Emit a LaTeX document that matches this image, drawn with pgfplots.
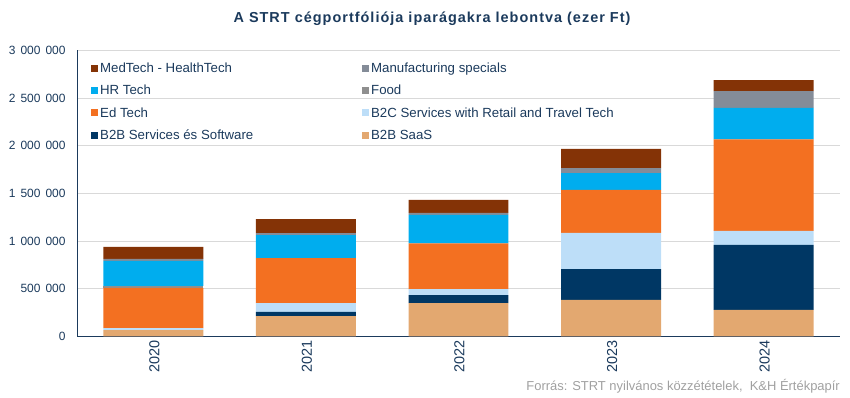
\documentclass[border=0pt]{standalone}
\usepackage{fontspec}
\setmainfont{Liberation Sans}
\newfontfamily\titlefont[LetterSpace=7]{Liberation Sans}
\usepackage{pgfplots}
\pgfplotsset{compat=1.18}
\usepackage{pgfplotstable}

\definecolor{cMed}{HTML}{843306}
\definecolor{cManuf}{HTML}{848C98}
\definecolor{cHR}{HTML}{00ADEE}
\definecolor{cFood}{HTML}{8F8F8F}
\definecolor{cEd}{HTML}{F37021}
\definecolor{cBtoC}{HTML}{BDDEF8}
\definecolor{cSvc}{HTML}{003764}
\definecolor{cSaaS}{HTML}{E3A870}
\definecolor{textblue}{HTML}{1B3A5C}
\definecolor{gridgrey}{HTML}{D9D9D9}
\definecolor{srcgrey}{HTML}{A0A0A0}

\pgfplotstableread{
x saas svc b2c ed food hr manuf med
0 68000 0 21000 420000 21000 262000 21000 126000
1 215000 42000 94000 472000 0 241000 21000 147000
2 351000 84000 63000 480000 0 297000 21000 136000
3 383000 325000 378000 451000 0 178000 52000 200000
4 278000 682000 147000 961000 0 329000 178000 115000
}\datatable

\newcommand{\tsp}{\hspace{5bp}}

\begin{document}
\begin{tikzpicture}
\path[use as bounding box] (0,0) rectangle (850bp,398bp);
\begin{axis}[
  at={(77bp,61.5bp)}, anchor=south west,
  scale only axis, width=763bp, height=286bp,
  ybar stacked, bar width=0.655,
  xmin=-0.5, xmax=4.5, ymin=0, ymax=3000000,
  scaled y ticks=false,
  xtick={0,1,2,3,4}, xticklabels={2020,2021,2022,2023,2024},
  x tick label style={rotate=90, anchor=east, font=\fontsize{14.5}{16}\selectfont, text=textblue, yshift=-1bp},
  ytick={0,500000,1000000,1500000,2000000,2500000,3000000},
  yticklabels={0,500\tsp000,1\tsp000\tsp000,1\tsp500\tsp000,2\tsp000\tsp000,2\tsp500\tsp000,3\tsp000\tsp000},
  y tick label style={font=\fontsize{12}{14}\selectfont, text=textblue, xshift=-8bp},
  axis x line*=bottom, axis y line*=left,
  axis line style={textblue, line width=0.9pt, -},
  ymajorgrids, grid style={gridgrey, line width=0.7pt},
  major tick length=0pt, tick style={draw=none},
  reverse legend, legend columns=2,
  legend image code/.code={\fill[#1] (0bp,-3.5bp) rectangle (7bp,3.5bp);},
  legend style={at={(0.0144,0.97)}, anchor=north west, draw=none, fill=none,
    font=\fontsize{13.3}{15.6}\selectfont, text=textblue, row sep=7bp},
  legend cell align=left,
]
\addplot[fill=cSaaS, draw=none] table[x=x,y=saas]{\datatable};
\addlegendentry{B2B SaaS}
\addplot[fill=cSvc, draw=none] table[x=x,y=svc]{\datatable};
\addlegendentry{\makebox[260bp][l]{B2B Services és Software}}
\addplot[fill=cBtoC, draw=none] table[x=x,y=b2c]{\datatable};
\addlegendentry{B2C Services with Retail and Travel Tech}
\addplot[fill=cEd, draw=none] table[x=x,y=ed]{\datatable};
\addlegendentry{\makebox[260bp][l]{Ed Tech}}
\addplot[fill=cFood, draw=none] table[x=x,y=food]{\datatable};
\addlegendentry{Food}
\addplot[fill=cHR, draw=none] table[x=x,y=hr]{\datatable};
\addlegendentry{\makebox[260bp][l]{HR Tech}}
\addplot[fill=cManuf, draw=none] table[x=x,y=manuf]{\datatable};
\addlegendentry{Manufacturing specials}
\addplot[fill=cMed, draw=none] table[x=x,y=med]{\datatable};
\addlegendentry{\makebox[260bp][l]{MedTech - HealthTech}}
\end{axis}
\node[font=\titlefont\bfseries\fontsize{14.5}{17}\selectfont, text=textblue] at (432bp,379bp)
  {A STRT cégportfóliója iparágakra lebontva (ezer Ft)};
\node[anchor=south east, font=\fontsize{13}{15}\selectfont, text=srcgrey, inner sep=0pt] at (840bp,5bp)
  {Forrás: STRT nyilvános közzétételek,\ \ K\&H Értékpapír};
\end{tikzpicture}
\end{document}
